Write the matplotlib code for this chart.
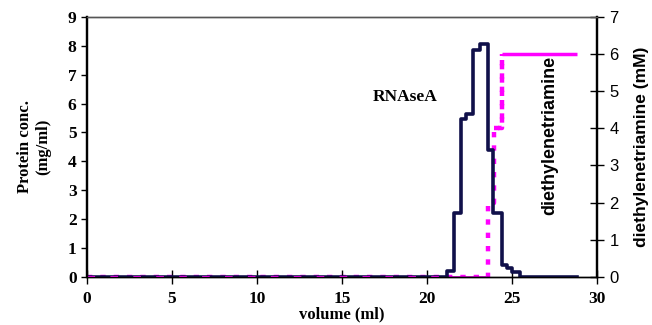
import numpy as np
import matplotlib
matplotlib.use("Agg")
import matplotlib.pyplot as plt

# protein elution profile (step edges, ml) and concentration (mg/ml)
vol_edges = [0, 21.2, 21.6, 22.0, 22.3, 22.7, 23.1, 23.6, 23.9, 24.4, 24.7, 25.0, 25.5, 28.8]
protein = [0, 0.2, 2.2, 5.45, 5.65, 7.85, 8.05, 4.4, 2.2, 0.4, 0.3, 0.17, 0, 0]

# diethylenetriamine gradient (mM)
grad_vol = [0, 23.6, 23.95, 24.4]
grad_conc = [0, 2, 4, 6]
plateau_vol = [24.4, 28.8]
plateau_conc = [6, 6]

navy = "#10104a"
magenta = "#ff00ff"
serif = "Liberation Serif"
sans = "Liberation Sans"

fig = plt.figure(figsize=(6.52, 3.25), dpi=100)
ax = fig.add_axes([0.1334, 0.1486, 0.7822, 0.7991])
ax2 = ax.twinx()

# gradient on right axis
ax2.plot(grad_vol, grad_conc, drawstyle="steps-post", color=magenta, lw=3.2,
         ls=(0, (1.2, 1.8)), zorder=2)
ax2.plot([grad_vol[0], grad_vol[1]], [0, 0], color=magenta, lw=1.2, zorder=1)
ax2.plot([grad_vol[2], grad_vol[3], grad_vol[3]], [4, 4, 6], color=magenta, lw=3.2,
         ls=(0, (1.2, 1.8)))
ax2.plot(plateau_vol, plateau_conc, color=magenta, lw=2.5, solid_capstyle="butt")
ax2.set_ylim(0, 7)
ax2.set_yticks(range(0, 8))
ax2.tick_params(axis="y", direction="inout", length=10, width=1, labelsize=12, pad=4)
for t in ax2.get_yticklabels():
    t.set_fontfamily(sans)
ax2.set_ylabel("diethylenetriamine (mM)", fontfamily=sans, fontweight="bold",
               fontsize=12.5, labelpad=11)

# protein on left axis, drawn over the gradient
ax.set_zorder(ax2.get_zorder() + 1)
ax.patch.set_visible(False)
ax.plot(vol_edges, protein, drawstyle="steps-post", color=navy, lw=2.6)
ax.plot([0, 21.2], [0, 0], color=magenta, lw=2.2, ls=(0, (2.5, 5)))
ax.set_xlim(0, 30)
ax.set_ylim(0, 9)
ax.set_xticks(range(0, 31, 5))
ax.set_yticks(range(0, 10))
ax.tick_params(axis="y", direction="out", length=4, width=1, labelsize=12.5)
ax.tick_params(axis="x", direction="inout", length=10, width=1, labelsize=12.5, pad=5)
for t in ax.get_xticklabels() + ax.get_yticklabels():
    t.set_fontfamily(serif)
    t.set_fontweight("bold")
ax.set_xlabel("volume (ml)", fontfamily=serif, fontweight="bold", fontsize=12, labelpad=0)
ax.set_ylabel("Protein conc.\n(mg/ml)", fontfamily=serif, fontweight="bold",
              fontsize=12, labelpad=12)

ax.text(18.7, 6.23, "RNAseA", fontfamily=serif, fontweight="bold", fontsize=12.5,
        ha="center", va="center")
ax.text(27.2, 4.9, "diethylenetriamine", fontfamily=sans, fontweight="bold",
        fontsize=13, rotation=90, ha="center", va="center")

for a in (ax, ax2):
    a.spines["left"].set_linewidth(1.6)
    a.spines["right"].set_linewidth(1.6)
    a.spines["bottom"].set_linewidth(1.0)
    a.spines["top"].set_linewidth(1.0)
    a.spines["top"].set_color("#555555")

fig.savefig("out.png", dpi=100)
